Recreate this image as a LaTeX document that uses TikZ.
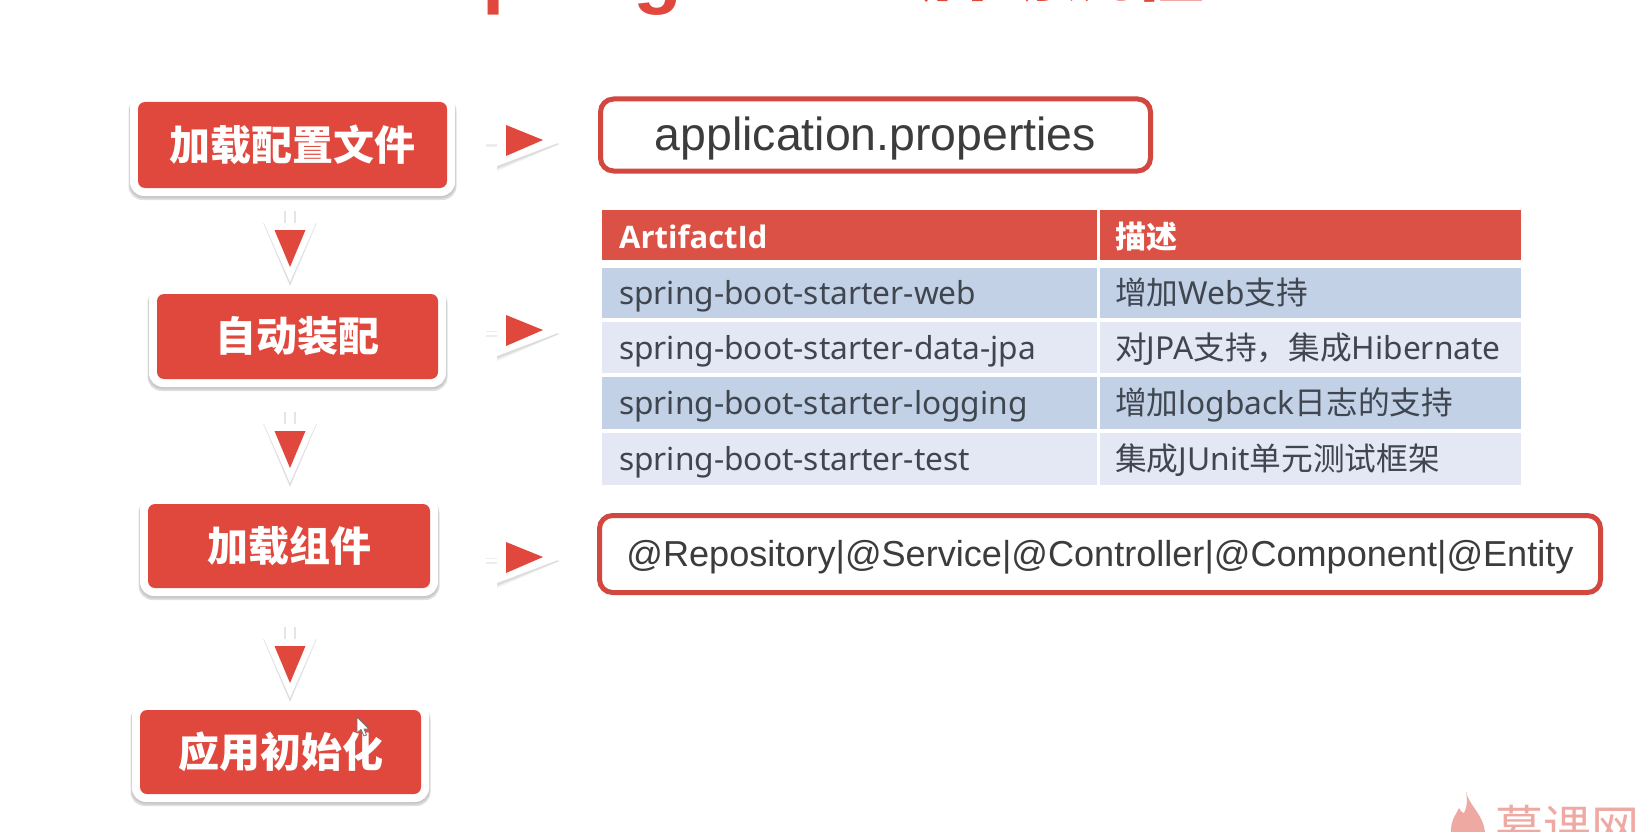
\documentclass[tikz,border=0pt]{standalone}
\usepackage{fontspec}
\setmainfont{Liberation Sans}
\newfontfamily\cjk{Noto Sans CJK SC}
\newfontfamily\tabfont{Noto Sans}
\newfontfamily\headfont{Open Sans}
\usetikzlibrary{calc}
\definecolor{boxred}{HTML}{E0483D}
\definecolor{headred}{HTML}{DC5145}
\definecolor{framered}{HTML}{D2473F}
\definecolor{rowdark}{HTML}{C3D1E6}
\definecolor{rowlight}{HTML}{E3E8F4}
\definecolor{inkgray}{HTML}{3C3C3C}
\definecolor{tabink}{HTML}{3F4650}
\definecolor{markpink}{HTML}{EFA9A3}
\newcommand{\fs}[1]{\fontsize{#1}{#1}\selectfont}
\tikzset{
  stepbox/.style={fill=boxred,rounded corners=7,inner sep=0,text=white,font=\cjk\bfseries\fs{41}},
  framebox/.style={draw=framered,line width=5,fill=white,rounded corners=13,inner sep=0,text=inkgray},
  cell/.style={inner ysep=0,anchor=west,align=left,text height=26,text depth=3,font=\tabfont\fs{31.7},text=tabink},
  headcell/.style={cell,fill=headred,text=white,text height=29,font=\headfont\bfseries\fs{31}},
  darkcell/.style={cell,fill=rowdark},
  lightcell/.style={cell,fill=rowlight},
}
% name, x1, y1, x2, y2 (red area), text
\newcommand{\redbox}[6]{%
  \foreach \d/\o in {0/.05,1.5/.08,3/.12}{
    \fill[black,opacity=\o,rounded corners=14] (#2-8-\d/2,#3-8+3) rectangle (#4+8+\d/2,#5+8+1+\d);
  }
  \fill[white,rounded corners=14] (#2-8,#3-8) rectangle (#4+8,#5+8);
  \node[stepbox,minimum width=#4-#2,minimum height=#5-#3] (#1) at ({(#2+#4)/2},{(#3+#5)/2}) {#6};
}
% name, x, y = centre of the top edge of the white triangle
\newcommand{\arrowdown}[3]{%
  \coordinate (#1) at (#2,#3);
  \draw[black!10,line width=1.5] ($(#1)+(-5,-12)$) -- ($(#1)+(-5,0)$) ($(#1)+(5,-12)$) -- ($(#1)+(5,0)$);
  \fill[black,opacity=.05] ($(#1)+(-27,0)$) -- ($(#1)+(27,0)$) -- ($(#1)+(0,64)$) -- cycle;
  \fill[black,opacity=.09] ($(#1)+(-26.5,0)$) -- ($(#1)+(26.5,0)$) -- ($(#1)+(0,62)$) -- cycle;
  \fill[white] ($(#1)+(-26,0)$) -- ($(#1)+(26,0)$) -- ($(#1)+(0,59)$) -- cycle;
  \fill[boxred] ($(#1)+(-15.5,7)$) -- ($(#1)+(15.5,7)$) -- ($(#1)+(0,44)$) -- cycle;
}
% name, x, y = tip of the red triangle
\newcommand{\arrowright}[3]{%
  \coordinate (#1) at (#2,#3);
  \draw[black!7,line width=6] ($(#1)+(-57,4)$) -- ($(#1)+(-44,4)$);
  \draw[white,line width=3] ($(#1)+(-57,3)$) -- ($(#1)+(-44,3)$);
  \fill[black,opacity=.05] ($(#1)+(-46,-20)$) -- ($(#1)+(17,4)$) -- ($(#1)+(-46,31)$) -- cycle;
  \fill[black,opacity=.09] ($(#1)+(-46,-20)$) -- ($(#1)+(16,4)$) -- ($(#1)+(-46,29)$) -- cycle;
  \fill[white] ($(#1)+(-46,-23)$) -- ($(#1)+(15,3)$) -- ($(#1)+(-46,26)$) -- cycle;
  \fill[boxred] ($(#1)+(-37,-15)$) -- (#1) -- ($(#1)+(-37,16)$) -- cycle;
}
% name, y1, y2, style, left text, right text
\newcommand{\tabrow}[6]{%
  \node[#4,inner xsep=0,text height=0,text depth=0,minimum height=#3-#2,minimum width=495] (#1a) at (602,{(#2+#3)/2}) {};
  \node[anchor=west,inner sep=0,#4,fill=none,inner xsep=0] (#1at) at (619,{(#2+#3)/2}) {#5};
  \node[#4,inner xsep=0,text height=0,text depth=0,minimum height=#3-#2,minimum width=421] (#1b) at (1100,{(#2+#3)/2}) {};
  \node[anchor=west,inner sep=0,#4,fill=none,inner xsep=0] (#1bt) at (1115,{(#2+#3)/2}) {#6};
}
\begin{document}
\begin{tikzpicture}[x=1pt,y=-1pt]
\useasboundingbox (0,0) rectangle (1649,832);
\fill[white] (0,0) rectangle (1649,832);

% clipped title
\node[anchor=base west,inner sep=0,text=boxred,font=\bfseries\fs{80}] (title) at (429,-1)
  {Spring Boot\hspace{30pt}\raisebox{3pt}{\cjk\fs{72}启动流程}};

% left flow
\redbox{s1}{138}{102}{447}{188}{加载配置文件}
\redbox{s2}{157}{294}{438}{379}{自动装配}
\redbox{s3}{148}{504}{430}{588}{加载组件}
\redbox{s4}{140}{710}{421}{794}{应用初始化}

\arrowdown{d1}{290}{223}
\arrowdown{d2}{290}{424}
\arrowdown{d3}{290}{639}

\arrowright{r1}{543}{140}
\arrowright{r2}{543}{330}
\arrowright{r3}{543}{557}

% right boxes
\node[framebox,minimum width=550,minimum height=72,text height=41,text depth=10,font=\fs{46.4}] (props) at (875.5,135) {application.properties};
\node[framebox,minimum width=1001,minimum height=77,text height=32,text depth=8,font=\fs{36.1}] (annots) at (1100,554) {@Repository|@Service|@Controller|@Component|@Entity};

% table
\tabrow{h}{210}{260}{headcell}{ArtifactId}{{\cjk\bfseries 描述}}
\tabrow{w}{268}{318}{darkcell}{spring-boot-starter-web}{{\cjk 增加}Web{\cjk 支持}}
\tabrow{j}{322}{373}{lightcell}{spring-boot-starter-data-jpa}{{\cjk 对}JPA{\cjk 支持，集成}Hibernate}
\tabrow{l}{377}{429}{darkcell}{spring-boot-starter-logging}{{\cjk 增加}logback{\cjk 日志的支持}}
\tabrow{t}{433}{485}{lightcell}{spring-boot-starter-test}{{\cjk 集成}JUnit{\cjk 单元测试框架}}

% mouse cursor
\filldraw[fill=white,draw=black!55,line width=.8,line join=round]
  (357,717) -- (357,733) -- (361,729.5) -- (364,736) -- (366.5,735) -- (364,729) -- (369,729) -- cycle;

% watermark
\fill[markpink] (1466,791) .. controls (1468,805) and (1485,815) .. (1485,835)
  -- (1451,835) .. controls (1450,820) and (1456,815) .. (1459,808)
  .. controls (1461,812) and (1463,813) .. (1464,813) .. controls (1468,805) and (1467,798) .. (1466,791) -- cycle;
\node[anchor=base west,inner sep=0,text=markpink,font=\cjk\fs{48}] (mark) at (1495,845) {慕课网};
\end{tikzpicture}
\end{document}
